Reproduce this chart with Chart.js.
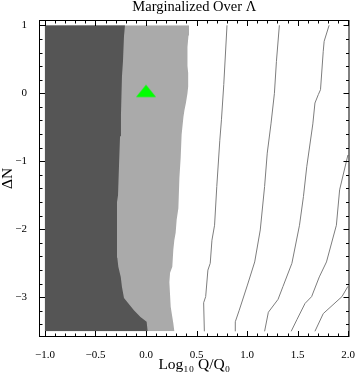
<!DOCTYPE html>
<html>
<head>
<meta charset="utf-8">
<script src="https://cdn.jsdelivr.net/npm/chart.js@4.4.1/dist/chart.umd.min.js"></script>
<style>
  html, body { margin: 0; padding: 0; background: #fff; }
  #wrap { width: 360px; height: 378px; position: relative; }
</style>
</head>
<body>
<div id="wrap"><canvas id="myChart"></canvas></div>
<script>
// region edges (x = log10 Q/Q0, y = delta N)
var darkY = [-3.5, -3.36, -3.29, -3.19, -3.08, -3.01, -2.85, -2.70, -2.55, -2.42, -2.2, -1.6, -1.5, -1.05, -0.63, -0.32, 0.25, 0.47, 0.84, 1.0];
var darkX = [0.016, 0.006, -0.055, -0.12, -0.18, -0.218, -0.238, -0.25, -0.274, -0.284, -0.287, -0.287, -0.277, -0.267, -0.257, -0.248, -0.238, -0.228, -0.218, -0.208];

var lightY = [-3.5, -3.38, -3.29, -3.14, -2.78, -2.64, -2.55, -2.3, -2.16, -2.05, -1.86, -1.69, -1.25, -0.94, -0.61, -0.35, -0.25, -0.14, 0.0, 0.1, 0.3, 0.4, 0.68, 0.85, 1.0];
var lightX = [0.28, 0.27, 0.26, 0.244, 0.231, 0.238, 0.26, 0.27, 0.28, 0.293, 0.303, 0.32, 0.33, 0.343, 0.352, 0.37, 0.38, 0.395, 0.41, 0.417, 0.417, 0.41, 0.41, 0.42, 0.425];

// contour lines in the white part
var contA_Y = [-3.5, -3.08, -2.99, -2.6, -2.5, -2.16, -1.94, -1.37, -0.69, -0.39, 0.13, 1.0];
var contA_X = [0.577, 0.570, 0.59, 0.612, 0.635, 0.652, 0.678, 0.700, 0.730, 0.746, 0.769, 0.801];
var contB_Y = [-3.5, -3.36, -3.19, -2.82, -2.48, -2.01, -1.37, -0.88, -0.45, 0.0, 0.47, 1.0];
var contB_X = [0.883, 0.883, 0.922, 1.003, 1.075, 1.13, 1.173, 1.199, 1.236, 1.27, 1.29, 1.319];
var contC_Y = [-3.5, -3.22, -3.03, -2.84, -2.5, -1.94, -1.52, -1.08, -0.45, -0.143, -0.02, 0.053, 0.618, 0.765, 1.0];
var contC_X = [1.173, 1.21, 1.306, 1.355, 1.443, 1.518, 1.557, 1.59, 1.65, 1.671, 1.704, 1.726, 1.753, 1.762, 1.811];
var contD_Y = [-3.5, -3.33, -3.09, -2.99, -2.70, -2.48, -1.94, -1.42, -0.907];
var contD_X = [1.436, 1.492, 1.573, 1.638, 1.714, 1.785, 1.883, 1.915, 1.997];
var contE_Y = [-3.5, -3.24, -2.99, -2.84];
var contE_X = [1.671, 1.753, 1.938, 1.997];

// best fit marker
var markX = [0];
var markY = [0];

var serif = "'Liberation Serif', 'DejaVu Serif', serif";
var minus = function (s) { return String(s).replace('-', '\u2212'); };

function pts(xs, ys) {
    return xs.map(function (v, i) { return {x: v, y: ys[i]}; });
}

function contour(xs, ys) {
    return {
        data: pts(xs, ys),
        borderColor: 'rgb(125,125,125)',
        borderWidth: 1,
        pointRadius: 0,
        fill: false,
        order: 0
    };
}

// green triangle, a bit wider than Chart.js' own
var tri = document.createElement('canvas');
tri.width = 20;
tri.height = 18;
var tctx = tri.getContext('2d');
tctx.fillStyle = 'rgb(0,255,0)';
tctx.beginPath();
tctx.moveTo(10, 0.4);
tctx.lineTo(20, 12.7);
tctx.lineTo(0, 12.7);
tctx.closePath();
tctx.fill();

// frame with inward ticks on all four sides
var framePlugin = {
    id: 'frame',
    afterDatasetsDraw: function (chart) {
        var ctx = chart.ctx, a = chart.chartArea;
        var xs = chart.scales.x, ys = chart.scales.y;
        ctx.save();
        ctx.strokeStyle = '#000';
        ctx.lineWidth = 1;
        ctx.strokeRect(a.left, a.top, a.right - a.left, a.bottom - a.top);
        ctx.beginPath();
        for (var i = 0; i <= 30; i++) {
            var len = i % 5 === 0 ? 5.5 : 3;
            var px = Math.round(xs.getPixelForValue(-1 + i * 0.1)) + 0.5;
            ctx.moveTo(px, a.bottom); ctx.lineTo(px, a.bottom - len);
            ctx.moveTo(px, a.top); ctx.lineTo(px, a.top + len);
        }
        for (var j = -17; j <= 5; j++) {
            var l = j % 5 === 0 ? 5.5 : 3;
            var py = Math.round(ys.getPixelForValue(j * 0.2)) + 0.5;
            ctx.moveTo(a.left, py); ctx.lineTo(a.left + l, py);
            ctx.moveTo(a.right, py); ctx.lineTo(a.right - l, py);
        }
        ctx.stroke();
        ctx.restore();
    }
};

var ctx = document.getElementById('myChart');
var chart = new Chart(ctx, {
    type: 'line',
    data: {
        datasets: [
            contour(contA_X, contA_Y),
            contour(contB_X, contB_Y),
            contour(contC_X, contC_Y),
            contour(contD_X, contD_Y),
            contour(contE_X, contE_Y),
            {
                data: pts(darkX, darkY),
                borderWidth: 0,
                pointRadius: 0,
                backgroundColor: 'rgb(85,85,85)',
                fill: {value: -1},
                order: 1
            },
            {
                data: pts(lightX, lightY),
                borderWidth: 0,
                pointRadius: 0,
                backgroundColor: 'rgb(170,170,170)',
                fill: {value: -1},
                order: 2
            },
            {
                data: pts(markX, markY),
                showLine: false,
                pointStyle: tri,
                pointRadius: 10,
                order: -1
            }
        ]
    },
    plugins: [framePlugin],
    options: {
        indexAxis: 'y',
        responsive: true,
        maintainAspectRatio: false,
        animation: false,
        events: [],
        layout: { padding: {left: 0, right: 7.5, top: 0, bottom: 0} },
        plugins: {
            legend: { display: false },
            tooltip: { enabled: false },
            title: {
                display: true,
                fullSize: false,
                text: 'Marginalized Over \u039B',
                color: '#000',
                font: { family: serif, size: 14.5, weight: 'normal', lineHeight: 1 },
                padding: { top: 0, bottom: 6 }
            }
        },
        scales: {
            x: {
                type: 'linear',
                position: 'bottom',
                min: -1.0538,
                max: 2.0078,
                grid: { display: false },
                border: { display: false },
                ticks: {
                    stepSize: 0.5,
                    includeBounds: false,
                    maxRotation: 0,
                    autoSkip: false,
                    padding: 4,
                    color: '#000',
                    font: { family: serif, size: 11 },
                    callback: function (v) { return minus(v.toFixed(1)); }
                },
                title: {
                    display: true,
                    text: 'Log\u2081\u2080 Q/Q\u2080',
                    color: '#000',
                    font: { family: serif, size: 15.5 },
                    padding: { top: 0, bottom: 3.7 }
                },
                afterFit: function (s) { s.height = 41.5; }
            },
            y: {
                type: 'linear',
                position: 'left',
                min: -3.5765,
                max: 1.0706,
                grid: { display: false },
                border: { display: false },
                ticks: {
                    stepSize: 1,
                    includeBounds: false,
                    autoSkip: false,
                    padding: 4.5,
                    color: '#000',
                    font: { family: serif, size: 11 },
                    callback: function (v) { return minus(v); }
                },
                title: {
                    display: true,
                    text: '\u0394N',
                    color: '#000',
                    font: { family: serif, size: 15.5, lineHeight: 1 },
                    padding: { top: 0.3, bottom: 0 }
                },
                afterFit: function (s) { s.width = 39.5; }
            }
        }
    }
});
</script>
</body>
</html>
